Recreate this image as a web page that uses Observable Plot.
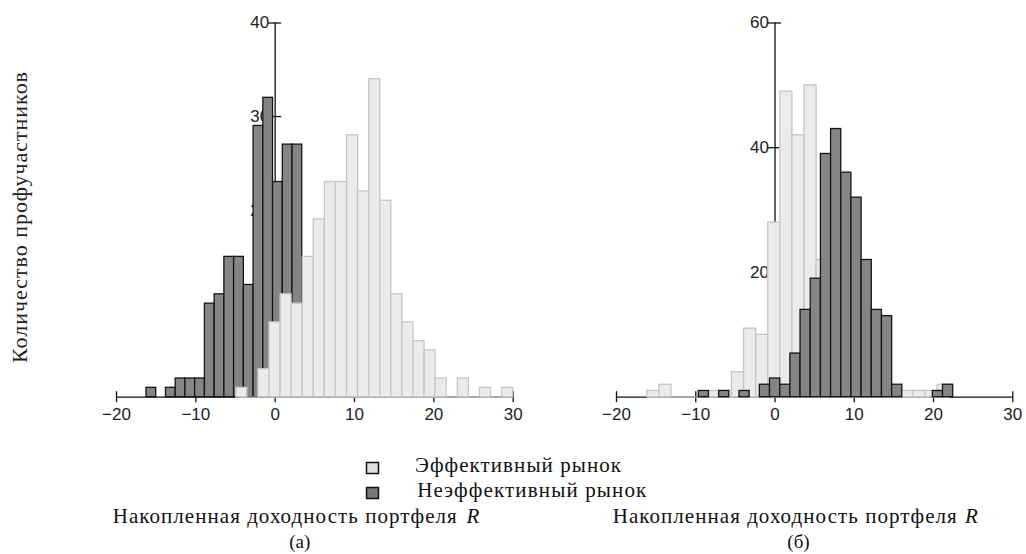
<!DOCTYPE html>
<html><head><meta charset="utf-8">
<script src="https://cdn.jsdelivr.net/npm/d3@7"></script>
<script src="https://cdn.jsdelivr.net/npm/@observablehq/plot@0.6"></script>
<style>
body{margin:0;background:#fff;}
#fig{position:relative;width:1026px;height:554px;overflow:hidden;background:#fff;}
#fig > svg{position:absolute;top:0;}
</style></head><body><div id="fig"></div>
<script>
// ---------- data ----------
const xTicks = [-20, -10, 0, 10, 20, 30];
const yTicksA = [10, 20, 30, 40];
const yTicksB = [20, 40, 60];
const yMaxA = 40, yMaxB = 60;

// panel (а): histogram bins (start of first bin, bin width, counts)
const effA_start = -4.91, effA_width = 1.3965;
const effA_counts = [1, 0, 3, 8, 11, 10, 15, 19, 23, 23, 28, 22, 34, 21, 11, 8, 6, 5, 2, 0, 2, 0, 1, 0, 1];
const ineffA_start = -16.22, ineffA_width = 1.227;
const ineffA_counts = [1, 0, 1, 2, 2, 2, 10, 11, 15, 15, 12, 29, 32, 23, 27, 27, 13, 10, 7, 4, 2, 1, 1];

// panel (б)
const effB_start = -16.12, effB_width = 1.5266;
const effB_counts = [1, 2, 0, 0, 0, 1, 1, 4, 11, 10, 28, 49, 42, 50, 22, 12, 6, 4, 2, 1, 1, 1, 1, 1, 2];
const ineffB_start = -9.62, ineffB_width = 1.284;
const ineffB_counts = [1, 0, 1, 0, 1, 0, 2, 3, 2, 7, 14, 19, 39, 43, 36, 32, 22, 14, 13, 2, 0, 0, 0, 1, 2];

const seriesNames = ["Эффективный рынок", "Неэффективный рынок"];
const yTitle = "Количество профучастников";
const xTitle = "Накопленная доходность портфеля";
const xVar = "R";
const panelTags = ["(а)", "(б)"];

// ---------- styles ----------
const effFill = "#ebebeb", effStroke = "#c6c6c6";
const ineffFill = "#858585", ineffStroke = "#151515";
const axisColor = "#111";

function bins(start, width, counts) {
  return counts.map((n, i) => ({x1: start + i * width, x2: start + (i + 1) * width, n}));
}
function bars(data, fill, stroke) {
  return Plot.rectY(data, {x1: "x1", x2: "x2", y: "n", filter: d => d.n > 0, inset: 0,
    fill, stroke, strokeWidth: 1.3});
}
function baseRule(start, width, counts, stroke) {
  return Plot.ruleY([0], {x1: start, x2: start + counts.length * width, stroke, strokeWidth: 1.3});
}

function panel({width, marginLeft, marginRight, yMax, yTicks, layers}) {
  return Plot.plot({
    width, height: 430, marginLeft, marginRight, marginTop: 22.5, marginBottom: 33.3,
    x: {domain: [-20, 30], label: null},
    y: {domain: [0, yMax], label: null, axis: null},
    style: {fontFamily: "'Liberation Sans', Arial, sans-serif", fontSize: "17px", color: "#222",
            background: "transparent", overflow: "visible"},
    marks: [
      Plot.axisX({ticks: xTicks, tickSize: 0, tickPadding: 11, label: null}),
      // y tick labels placed next to the y axis drawn at x = 0
      Plot.text(yTicks, {x: 0, y: d => d, text: d => String(d), textAnchor: "end", dx: -6, fill: "#222"}),
      Plot.ruleY([0], {stroke: axisColor, strokeWidth: 1.3}),
      Plot.ruleX([0], {stroke: axisColor, strokeWidth: 1.3}),
      Plot.ruleX(xTicks, {x: d => d, y1: 0, y2: 0, insetTop: -5.5, insetBottom: -5.5, stroke: axisColor, strokeWidth: 1.3}),
      Plot.ruleY(yTicks, {y: d => d, x1: 0, x2: 0, insetLeft: -6.5, insetRight: -6.5, stroke: axisColor, strokeWidth: 1.3}),
      ...layers
    ]
  });
}

const fig = document.getElementById("fig");

const left = panel({
  width: 560, marginLeft: 116, marginRight: 47.3, yMax: yMaxA, yTicks: yTicksA,
  layers: [
    bars(bins(ineffA_start, ineffA_width, ineffA_counts), ineffFill, ineffStroke),
    baseRule(effA_start, effA_width, effA_counts, effStroke),
    bars(bins(effA_start, effA_width, effA_counts), effFill, effStroke)
  ]
});
left.style.left = "0px";
fig.appendChild(left);

const right = panel({
  width: 466, marginLeft: 56, marginRight: 13.7, yMax: yMaxB, yTicks: yTicksB,
  layers: [
    baseRule(effB_start, effB_width, effB_counts, effStroke),
    bars(bins(effB_start, effB_width, effB_counts), effFill, effStroke),
    bars(bins(ineffB_start, ineffB_width, ineffB_counts), ineffFill, ineffStroke)
  ]
});
right.style.left = "560px";
fig.appendChild(right);

// ---------- text overlay (titles, legend) ----------
const svg = d3.select(fig).append("svg")
  .attr("width", 1026).attr("height", 554)
  .style("left", "0px").style("pointer-events", "none")
  .style("font-family", "'Liberation Serif', 'Times New Roman', serif");

svg.append("text")
  .attr("transform", "translate(27,217.5) rotate(-90)")
  .attr("text-anchor", "middle").attr("font-size", 22).attr("fill", "#222")
  .attr("textLength", 291).attr("lengthAdjust", "spacing")
  .text(yTitle);

const legendRows = [
  {name: seriesNames[0], fill: "#dedede", ry: 462.5, tx: 415, ty: 472, len: 206},
  {name: seriesNames[1], fill: "#777777", ry: 487.5, tx: 417.3, ty: 497, len: 229}
];
for (const r of legendRows) {
  svg.append("rect").attr("x", 366.5).attr("y", r.ry).attr("width", 12).attr("height", 11)
    .attr("fill", r.fill).attr("stroke", "#111").attr("stroke-width", 1.5);
  svg.append("text").attr("x", r.tx).attr("y", r.ty).attr("font-size", 21).attr("fill", "#111")
    .attr("textLength", r.len).attr("lengthAdjust", "spacing").text(r.name);
}

const titles = [{x: 112.7, rx: 466.5, tag: panelTags[0], cx: 299.8}, {x: 612.7, rx: 965, tag: panelTags[1], cx: 798.5}];
for (const t of titles) {
  svg.append("text").attr("x", t.x).attr("y", 523).attr("font-size", 21).attr("fill", "#111")
    .attr("textLength", 344).attr("lengthAdjust", "spacing").text(xTitle);
  svg.append("text").attr("x", t.rx).attr("y", 523).attr("font-size", 21).attr("font-style", "italic")
    .attr("fill", "#111").text(xVar);
  svg.append("text").attr("x", t.cx).attr("y", 548).attr("font-size", 19).attr("fill", "#111")
    .attr("text-anchor", "middle").text(t.tag);
}
</script>
</body></html>
